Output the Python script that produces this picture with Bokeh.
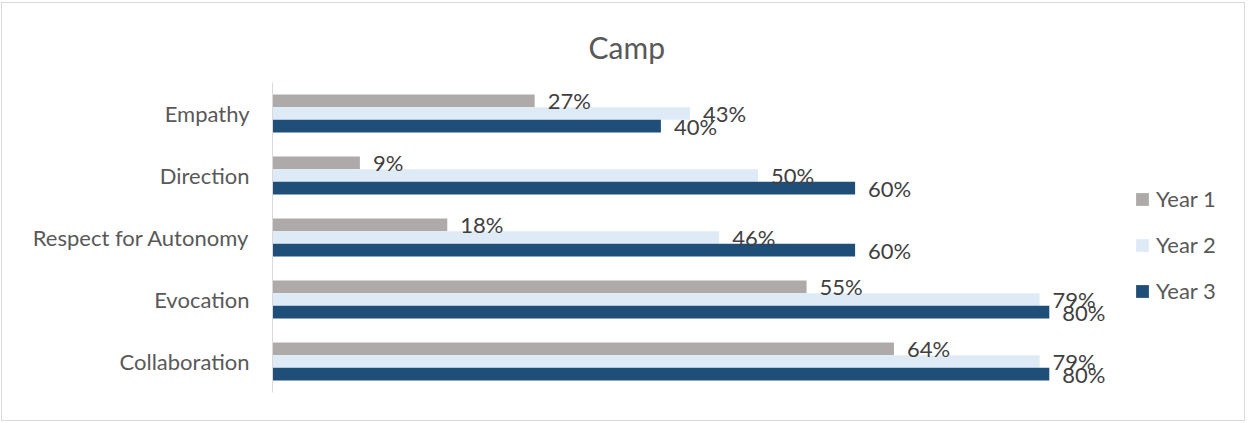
from bokeh.plotting import figure
from bokeh.models import ColumnDataSource, FactorRange, LabelSet, Legend, LegendItem, Range1d
from bokeh.transform import dodge
from bokeh.core.properties import value
from bokeh.embed import file_html
from bokeh.resources import INLINE

categories = ["Empathy", "Direction", "Respect for Autonomy", "Evocation", "Collaboration"]
series = ["Year 1", "Year 2", "Year 3"]
year1 = [27, 9, 18, 55, 64]
year2 = [43, 50, 46, 79, 79]
year3 = [40, 60, 60, 80, 80]
colors = ["#AEAAAA", "#DEEBF7", "#1F4E79"]

FONT = "Lato"

src = ColumnDataSource(dict(
    cat=categories,
    y1=year1, y2=year2, y3=year3,
    l1=[f"{v}%" for v in year1],
    l2=[f"{v}%" for v in year2],
    l3=[f"{v}%" for v in year3],
))

W, H = 1244, 419
left, right, top, bottom = 270, 6, 79, 30
px_per_pct = 9.71
x_end = (W - left - right) / px_per_pct

p = figure(width=W, height=H,
           y_range=FactorRange(factors=list(reversed(categories))),
           x_range=Range1d(0, x_end),
           x_axis_location=None,
           output_backend="svg", toolbar_location=None,
           min_border_left=left, min_border_right=right,
           min_border_top=top, min_border_bottom=bottom)
p.styles = {"border": "1px solid #D9D9D9", "margin-left": "1px", "margin-top": "2px"}
p.outline_line_color = None
p.grid.visible = False

p.title.text = "Camp"
p.title.align = "left"
p.title.offset = 316
p.title.text_font = FONT
p.title.text_font_size = "30px"
p.title.text_font_style = "normal"
p.title.text_color = "#595959"
p.title.standoff = 35

ax = p.yaxis[0]
ax.axis_line_color = "#D9D9D9"
ax.axis_line_width = 1
ax.major_tick_line_color = None
ax.minor_tick_line_color = None
ax.major_tick_out = 0
ax.major_tick_in = 0
ax.major_label_standoff = 23
ax.major_label_text_font = FONT
ax.major_label_text_font_size = "22px"
ax.major_label_text_color = "#595959"

bw = 0.205
offsets = [bw, 0.0, -bw]
fields = ["y1", "y2", "y3"]
labs = ["l1", "l2", "l3"]
renderers = []
for f, off, c in zip(fields, offsets, colors):
    r = p.hbar(y=dodge("cat", off, range=p.y_range), left=0, right=f, height=bw,
               fill_color=c, line_color=None, source=src)
    renderers.append(r)

for f, lab, off in zip(fields, labs, offsets):
    ls = LabelSet(x=f, y=dodge("cat", off, range=p.y_range), text=lab, source=src,
                  x_offset=13, text_baseline="middle", text_align="left",
                  text_font=value(FONT), text_font_size=value("22px"),
                  text_color="#404040")
    p.add_layout(ls)

legend = Legend(items=[LegendItem(label=s, renderers=[r]) for s, r in zip(series, renderers)],
                location=(862, 88), glyph_width=16, glyph_height=16, label_standoff=6,
                label_height=26, spacing=19, padding=0, margin=0,
                border_line_color=None, background_fill_alpha=0,
                label_text_font=FONT, label_text_font_size="22px", label_text_color="#595959")
p.add_layout(legend)

open("out.html", "w").write(file_html(p, INLINE))
